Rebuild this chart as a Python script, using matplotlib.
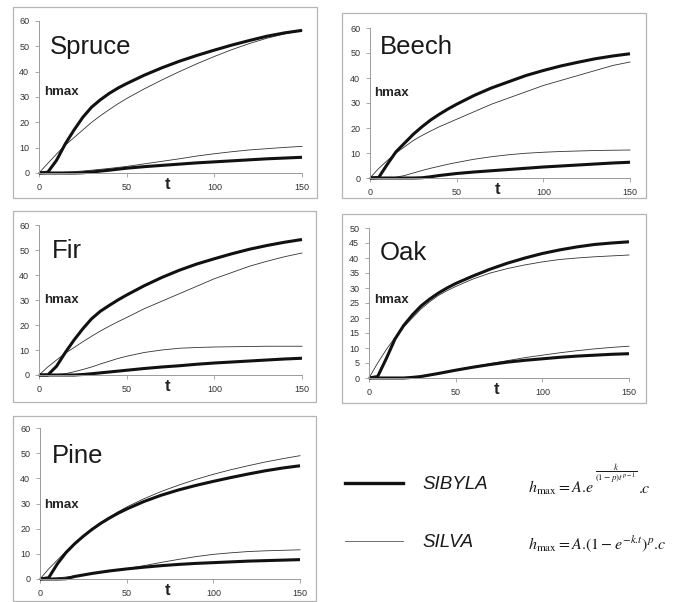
import matplotlib
matplotlib.use("Agg")
import matplotlib.pyplot as plt
from matplotlib.patches import Rectangle

plt.rcParams['font.family'] = ['Liberation Sans', 'DejaVu Sans']
plt.rcParams['mathtext.fontset'] = 'stix'

# ---------------- data ----------------
T = [0, 5, 10, 15, 20, 25, 30, 35, 40, 45, 50, 60, 70, 80, 90, 100, 110, 120, 130, 140, 150]

spruce_sibyla_hi = [0, 0.3, 5, 11.5, 17, 22, 26, 28.9, 31.4, 33.5, 35.3, 38.6, 41.5, 44.1, 46.4, 48.5, 50.5, 52.3, 54, 55.3, 56.3]
spruce_silva_hi = [0, 3.8, 7.5, 11, 14, 17, 20, 22.6, 25, 27.3, 29.4, 33.2, 36.7, 40, 43.1, 46, 48.7, 51.1, 53.2, 54.9, 56.3]
spruce_silva_lo = [0, 0, 0.1, 0.3, 0.5, 0.8, 1.1, 1.45, 1.8, 2.2, 2.6, 3.6, 4.6, 5.6, 6.7, 7.6, 8.4, 9.1, 9.6, 10.1, 10.5]
spruce_sibyla_lo = [0, 0, 0, 0, 0, 0.1, 0.4, 0.75, 1.1, 1.5, 1.9, 2.5, 3.0, 3.5, 4.0, 4.4, 4.8, 5.2, 5.6, 5.9, 6.2]

beech_sibyla_hi = [0, 0.2, 5.5, 10.5, 14, 17.5, 20.5, 23.2, 25.5, 27.6, 29.5, 33, 36, 38.5, 41, 43, 44.8, 46.3, 47.7, 48.8, 49.7]
beech_silva_hi = [0, 3.8, 7, 10, 12.5, 15, 17, 18.8, 20.5, 22, 23.5, 26.5, 29.5, 32, 34.5, 37, 39, 41, 43, 45, 46.4]
beech_silva_lo = [0, 0, 0, 0.3, 1, 2, 3, 3.9, 4.7, 5.5, 6.2, 7.5, 8.5, 9.3, 9.9, 10.3, 10.6, 10.8, 11, 11.1, 11.2]
beech_sibyla_lo = [0, 0, 0, 0, 0, 0, 0.1, 0.5, 1, 1.4, 1.8, 2.4, 2.9, 3.4, 3.9, 4.4, 4.8, 5.2, 5.6, 6.0, 6.3]

fir_sibyla_hi = [0, 0, 3.5, 9, 14, 18.5, 22.5, 25.5, 27.8, 30.0, 32.0, 35.7, 39, 41.9, 44.4, 46.5, 48.5, 50.3, 51.8, 53.1, 54.2]
fir_silva_hi = [0, 3.2, 6, 8.7, 11, 13.3, 15.5, 17.6, 19.5, 21.3, 23, 26.5, 29.5, 32.5, 35.5, 38.5, 41, 43.5, 45.5, 47.3, 48.8]
fir_silva_lo = [0, 0, 0.2, 0.5, 1.3, 2.2, 3.2, 4.4, 5.5, 6.6, 7.5, 9, 10, 10.7, 11, 11.2, 11.3, 11.4, 11.5, 11.5, 11.5]
fir_sibyla_lo = [0, 0, 0, 0, 0, 0.2, 0.5, 0.85, 1.2, 1.55, 1.9, 2.6, 3.2, 3.7, 4.3, 4.8, 5.2, 5.6, 6, 6.4, 6.7]

oak_sibyla_hi = [0, 0.5, 6.5, 13, 17.5, 21, 24, 26.3, 28.3, 30, 31.5, 34, 36.3, 38.3, 40, 41.5, 42.7, 43.7, 44.5, 45, 45.4]
oak_silva_hi = [0, 5, 9.5, 13.5, 17, 20, 23, 25.4, 27.5, 29.1, 30.5, 33, 35, 36.5, 37.7, 38.7, 39.5, 40, 40.4, 40.7, 41]
oak_silva_lo = [0, 0, 0, 0, 0, 0.2, 0.5, 1.0, 1.5, 2.1, 2.7, 3.8, 4.8, 5.8, 6.8, 7.6, 8.4, 9.1, 9.7, 10.2, 10.6]
oak_sibyla_lo = [0, 0, 0, 0, 0, 0.2, 0.5, 1.0, 1.5, 2.05, 2.6, 3.6, 4.5, 5.3, 5.9, 6.4, 6.9, 7.3, 7.6, 7.9, 8.1]

pine_sibyla_hi = [0, 0.5, 6, 10.5, 14, 17, 19.7, 22.1, 24.2, 26.1, 27.8, 30.8, 33.3, 35.4, 37.2, 38.8, 40.3, 41.7, 43, 44.1, 45]
pine_silva_hi = [0, 4, 7.5, 11, 14, 17, 19.8, 22.3, 24.6, 26.7, 28.6, 31.9, 34.8, 37.3, 39.6, 41.6, 43.4, 45, 46.5, 47.8, 49]
pine_silva_lo = [0, 0.1, 0.4, 0.8, 1.2, 1.7, 2.2, 2.65, 3.1, 3.6, 4.1, 5.3, 6.6, 7.8, 8.9, 9.8, 10.4, 10.9, 11.2, 11.4, 11.6]
pine_sibyla_lo = [0, 0, 0, 0.1, 1, 1.6, 2.2, 2.7, 3.2, 3.6, 4, 4.7, 5.3, 5.8, 6.2, 6.5, 6.8, 7.1, 7.3, 7.5, 7.7]

X_TICKS = [0, 50, 100, 150]
Y_TICKS_60 = [0, 10, 20, 30, 40, 50, 60]
Y_TICKS_50 = [0, 5, 10, 15, 20, 25, 30, 35, 40, 45, 50]

# ---------------- layout (pixels) ----------------
W, H = 676, 602
fig = plt.figure(figsize=(W / 100, H / 100), dpi=100)
fig.patch.set_facecolor('white')


def px_rect(x0, y0, x1, y1):
    # pixel box (top-left origin) -> figure fraction [l, b, w, h]
    return [x0 / W, 1 - y1 / H, (x1 - x0) / W, (y1 - y0) / H]


panels = [
    # name, axes box, frame box, ylim, yticks, name pos, hmax pos, curves
    ("Spruce", (39, 21, 302, 173), (13, 7, 317, 198), 60, Y_TICKS_60, (0.042, 0.783), (0.02, 0.533),
     (spruce_sibyla_hi, spruce_silva_hi, spruce_silva_lo, spruce_sibyla_lo)),
    ("Beech", (370, 28, 630, 178), (342, 13, 646, 198), 60, Y_TICKS_60, (0.038, 0.827), (0.015, 0.567),
     (beech_sibyla_hi, beech_silva_hi, beech_silva_lo, beech_sibyla_lo)),
    ("Fir", (39, 225, 302, 375), (13, 211, 316, 402), 60, Y_TICKS_60, (0.049, 0.78), (0.02, 0.5),
     (fir_sibyla_hi, fir_silva_hi, fir_silva_lo, fir_sibyla_lo)),
    ("Oak", (369, 228, 629, 378), (342, 214, 646, 403), 50, Y_TICKS_50, (0.042, 0.787), (0.02, 0.52),
     (oak_sibyla_hi, oak_silva_hi, oak_silva_lo, oak_sibyla_lo)),
    ("Pine", (40, 428, 300, 579), (13, 416, 316, 601), 60, Y_TICKS_60, (0.046, 0.768), (0.015, 0.49),
     (pine_sibyla_hi, pine_silva_hi, pine_silva_lo, pine_sibyla_lo)),
]

AX_GREY = '#9a9a9a'
THICK = dict(color='#111111', lw=2.2, solid_capstyle='butt', clip_on=False)
THIN = dict(color='#333333', lw=0.6, clip_on=False)

for name, abox, fbox, ymax, yticks, name_xy, hmax_xy, curves in panels:
    # grey frame around the chart
    fx0, fy0, fx1, fy1 = fbox
    fig.patches.append(Rectangle((fx0 / W, 1 - fy1 / H), (fx1 - fx0) / W, (fy1 - fy0) / H,
                                 transform=fig.transFigure, fill=False,
                                 edgecolor='#b4b4b4', lw=0.9))

    ax = fig.add_axes(px_rect(*abox))
    ax.set_facecolor('none')
    sib_hi, sil_hi, sil_lo, sib_lo = curves
    ax.plot(T, sil_hi, **THIN)
    ax.plot(T, sil_lo, **THIN)
    ax.plot(T, sib_hi, **THICK)
    ax.plot(T, sib_lo, **THICK)

    ax.set_xlim(0, 150)
    ax.set_ylim(0, ymax)
    ax.set_xticks(X_TICKS)
    ax.set_yticks(yticks)
    for s in ['top', 'right']:
        ax.spines[s].set_visible(False)
    for s in ['left', 'bottom']:
        ax.spines[s].set_color(AX_GREY)
        ax.spines[s].set_linewidth(0.7)
    ax.tick_params(direction='out', length=3, width=0.6, color=AX_GREY,
                   labelsize=6.5, labelcolor='#333333', pad=4)

    ax.text(name_xy[0], name_xy[1], name, transform=ax.transAxes,
            fontsize=18.5, ha='left', va='baseline', color='#1a1a1a')
    ax.text(hmax_xy[0], hmax_xy[1], 'hmax', transform=ax.transAxes, fontsize=9.5,
            fontweight='bold', ha='left', va='center', color='#222222')
    ax.text(0.49, -0.075, 't', transform=ax.transAxes, fontsize=12,
            fontweight='bold', ha='center', va='center', color='#222222')

# ---------------- legend ----------------
lx0, lx1 = 345, 403
fig.add_artist(plt.Line2D([lx0 / W, lx1 / W], [1 - 483 / H, 1 - 483 / H],
                          transform=fig.transFigure, color='#111111', lw=2.4))
fig.add_artist(plt.Line2D([lx0 / W, lx1 / W], [1 - 541 / H, 1 - 541 / H],
                          transform=fig.transFigure, color='#555555', lw=0.6))
fig.text(422 / W, 1 - 489 / H, 'SIBYLA', fontsize=13.5, style='italic',
         ha='left', va='baseline', color='#1a1a1a')
fig.text(422 / W, 1 - 547 / H, 'SILVA', fontsize=13.5, style='italic',
         ha='left', va='baseline', color='#1a1a1a')

# SIBYLA formula: base part, raised fraction exponent, trailing ".c"
renderer = fig.canvas.get_renderer()
base = fig.text(528 / W, 1 - 493 / H, r'$h_{\max}=A.\hspace{-0.2}e$',
                fontsize=11.5, ha='left', va='baseline', color='#1a1a1a')
bx1 = base.get_window_extent(renderer).x1
expo = fig.text((bx1 + 1) / W, 1 - 473 / H, r'$\dfrac{k}{(1-p)t^{p-1}}$',
                fontsize=6.5, ha='left', va='center', color='#1a1a1a')
ex1 = expo.get_window_extent(renderer).x1
fig.text((ex1 + 1) / W, 1 - 493 / H, r'$.\hspace{-0.25}c$',
         fontsize=11.5, ha='left', va='baseline', color='#1a1a1a')

fig.text(528 / W, 1 - 549 / H,
         r'$h_{\max}=A.\hspace{-0.2}(1-e^{-k.\hspace{-0.2}t})^{p}.\hspace{-0.2}c$',
         fontsize=11.5, ha='left', va='baseline', color='#1a1a1a')

fig.savefig('out.png', dpi=100, facecolor='white')
